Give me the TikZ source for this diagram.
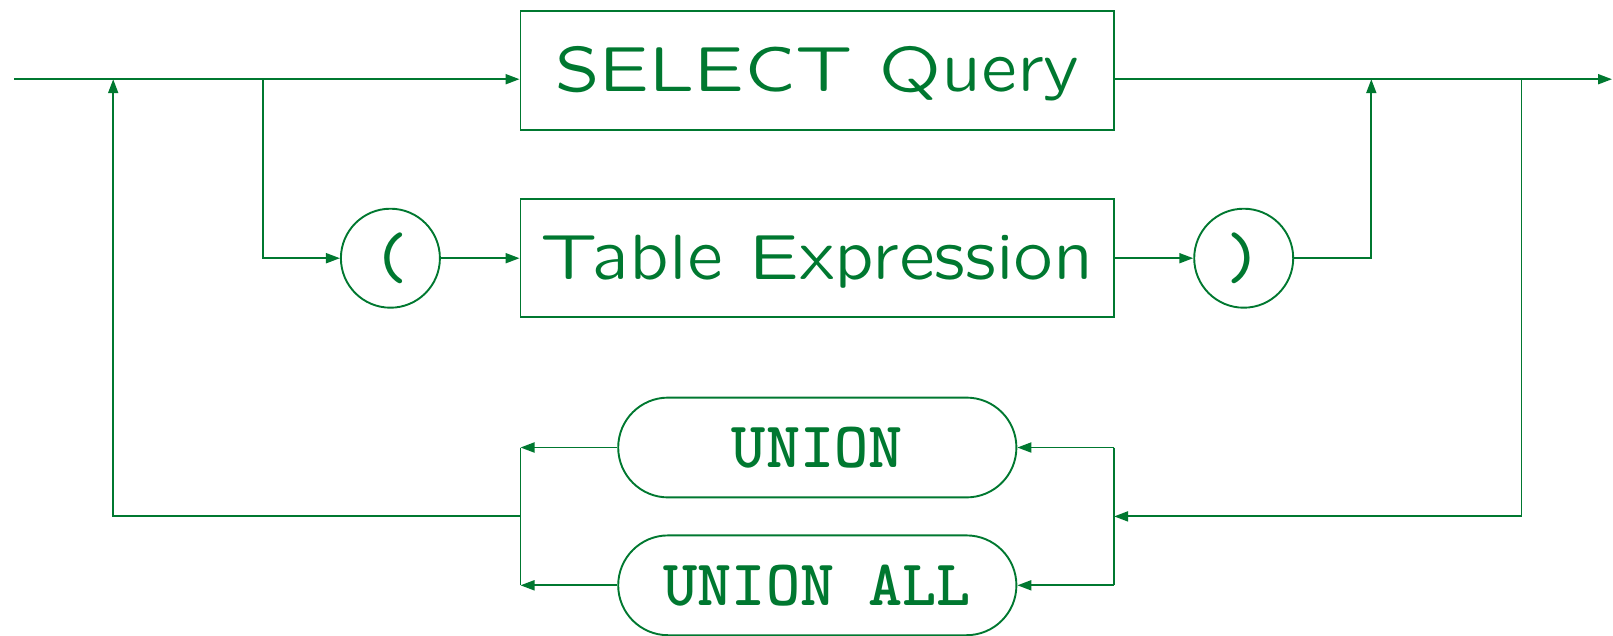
\documentclass[tikz,border=0pt]{standalone}
\usetikzlibrary{arrows.meta,shapes.misc}
\definecolor{sqlgreen}{RGB}{0,120,48}
\begin{document}
\begin{tikzpicture}[x=1pt,y=-1pt,
  conn/.style={draw=sqlgreen,line width=1.9pt},
  arr/.style={conn,-{Triangle[length=14pt,width=10pt]}},
  ntbox/.style={draw=sqlgreen,line width=1.9pt,rectangle,minimum width=593.6pt,minimum height=118.3pt,inner sep=0pt,
    text=sqlgreen,font=\fontfamily{lmssq}\selectfont\fontsize{64}{70}\selectfont,text height=44.8pt,text depth=3pt},
  tbox/.style={draw=sqlgreen,line width=1.9pt,rounded rectangle,minimum width=398.2pt,minimum height=99.8pt,inner sep=0pt,
    text=sqlgreen,font=\ttfamily\bfseries\fontsize{65}{70}\selectfont},
  pcirc/.style={draw=sqlgreen,line width=1.9pt,circle,minimum size=99pt,inner sep=0pt,
    text=sqlgreen,font=\ttfamily\bfseries\fontsize{66}{70}\selectfont}]
\useasboundingbox (0,0) rectangle (1613,635);
% nodes
\node[ntbox] (sel) at (817.3,70.5) {SELECT Query};
\node[ntbox] (tab) at (817.3,258.2) {Table Expression};
\node[pcirc] (lp) at (390.4,258.2) {(};
\node[pcirc] (rp) at (1243.7,258.2) {)};
\node[tbox] (un) at (817.3,447.5) {UNION};
\node[tbox] (ua) at (817.3,585.3) {UNION ALL};
% coordinates
\coordinate (start) at (14.4,79.2);
\coordinate (jL) at (113.2,79.2);
\coordinate (jB) at (263.3,79.2);
\coordinate (jR) at (1371.3,79.2);
\coordinate (jRR) at (1521.5,79.2);
\coordinate (end) at (1612,79.2);
\coordinate (ub) at (1114.1,516.4);
\coordinate (uR1) at (1114.1,447.5);
\coordinate (uR2) at (1114.1,585.3);
\coordinate (uL1) at (520.5,447.5);
\coordinate (uL2) at (520.5,585.3);
\coordinate (uL) at (520.5,516.4);
% connectors
\draw[arr] (start) -- (sel.west |- start);
\draw[arr] (sel.east |- start) -- (end);
\draw[arr] (jB) |- (lp.west);
\draw[arr] (lp.east) -- (tab.west);
\draw[arr] (tab.east) -- (rp.west);
\draw[arr] (rp.east) -| (jR);
\draw[arr] (jRR) |- (ub);
\draw[conn] (uR1) -- (uR2);
\draw[arr] (uR1) -- (un.east);
\draw[arr] (uR2) -- (ua.east);
\draw[arr] (un.west) -- (uL1);
\draw[arr] (ua.west) -- (uL2);
\draw[conn] (uL1) -- (uL2);
\draw[arr] (uL) -| (jL);
\end{tikzpicture}
\end{document}
